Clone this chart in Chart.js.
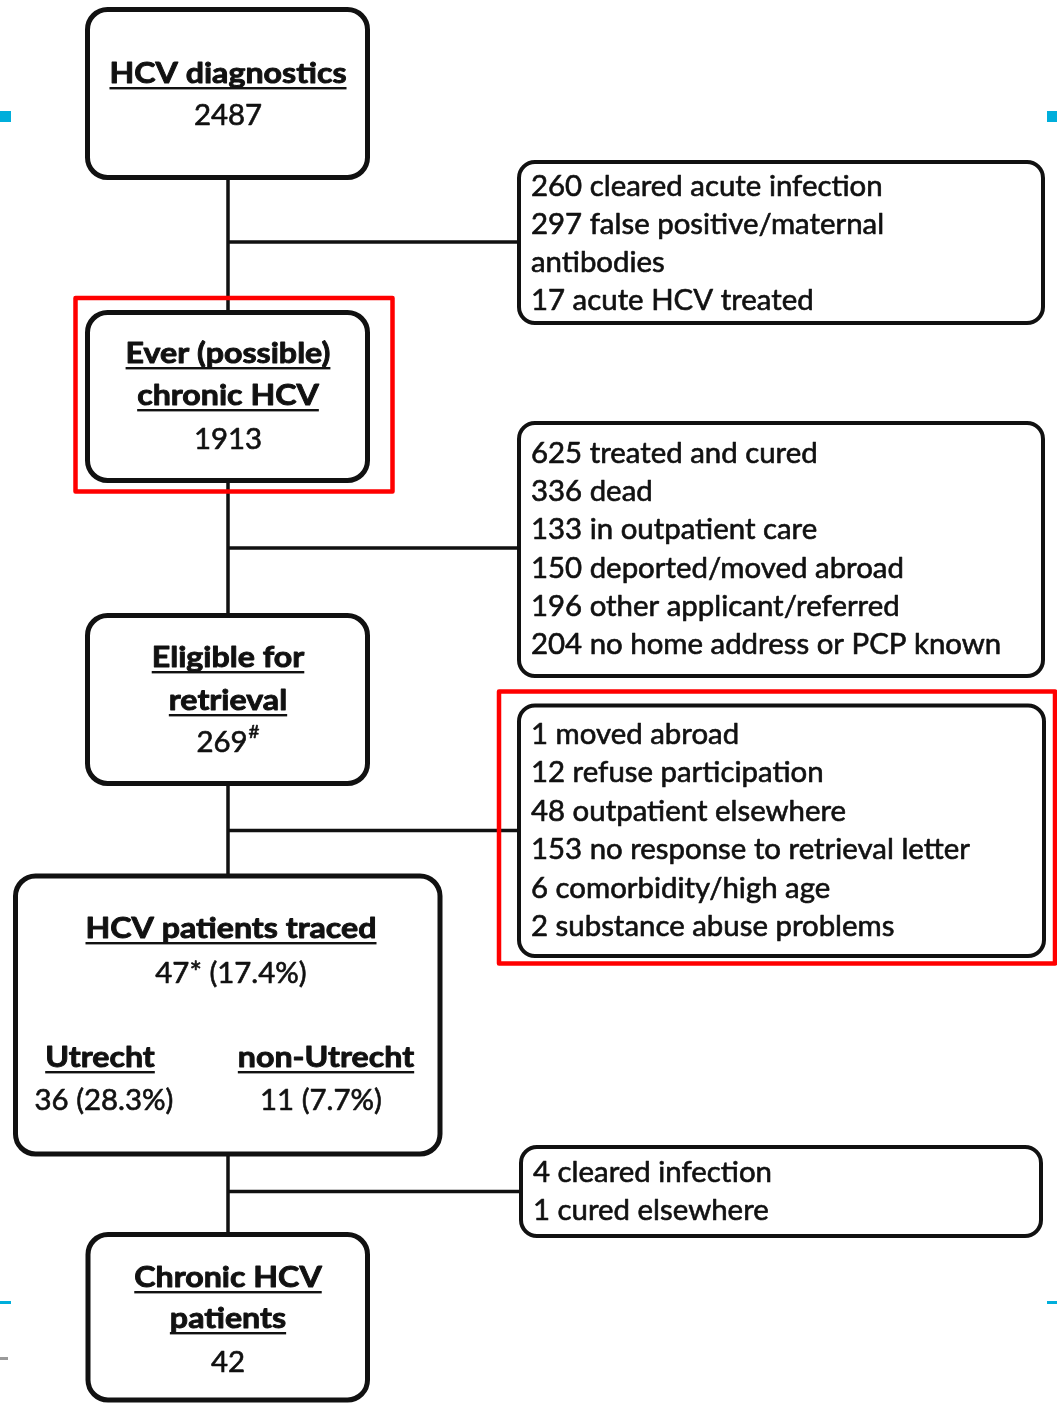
<!DOCTYPE html>
<html><head><meta charset="utf-8">
<script src="https://cdn.jsdelivr.net/npm/chart.js@4.4.1/dist/chart.umd.min.js"></script>
<style>html,body{margin:0;padding:0;background:#fff;}canvas{display:block;}</style>
</head><body>
<canvas id="c" width="1057" height="1404"></canvas>
<script>
// ---------------- DATA ----------------
const stageTitles = [['HCV diagnostics'], ['Ever (possible)', 'chronic HCV'], ['Eligible for', 'retrieval'], ['HCV patients traced'], ['Chronic HCV', 'patients']];
const stageCounts = [2487, 1913, 269, 47, 42];
const stageSuperscripts = ['', '', '#', '', ''];
const stageSuffixes = ['', '', '', '* (17.4%)', ''];
const regionNames = ['Utrecht', 'non-Utrecht'];
const regionCounts = [36, 11];
const regionPercents = ['28.3%', '7.7%'];

const excl1Counts = [260, 297, 17];
const excl1Reasons = [['cleared acute infection'], ['false positive/maternal', 'antibodies'], ['acute HCV treated']];
const excl2Counts = [625, 336, 133, 150, 196, 204];
const excl2Reasons = [['treated and cured'], ['dead'], ['in outpatient care'], ['deported/moved abroad'], ['other applicant/referred'], ['no home address or PCP known']];
const excl3Counts = [1, 12, 48, 153, 6, 2];
const excl3Reasons = [['moved abroad'], ['refuse participation'], ['outpatient elsewhere'], ['no response to retrieval letter'], ['comorbidity/high age'], ['substance abuse problems']];
const excl4Counts = [4, 1];
const excl4Reasons = [['cleared infection'], ['cured elsewhere']];
const exclusions = [[excl1Counts, excl1Reasons], [excl2Counts, excl2Reasons], [excl3Counts, excl3Reasons], [excl4Counts, excl4Reasons]];

// ---------------- LAYOUT (chart units = pixels of the reference) ----------------
const W = 1057, H = 1404;
const FONT = 'Lato';
const REG = 28, BOLD = 29, SUP = 18;
const CAL_REG = ['153 no response to retrieval letter', 439];
const CAL_BOLD = ['HCV patients traced', 291];
const stageBoxes = [
  {x0: 87.5, y0: 9.5, x1: 367.5, y1: 177.5, cx: 228, title: [83], count: 125},
  {x0: 87.5, y0: 312.5, x1: 367.5, y1: 480.5, cx: 228, title: [363, 405], count: 449},
  {x0: 87.5, y0: 615.5, x1: 367.5, y1: 783.5, cx: 228, title: [667, 710], count: 752},
  {x0: 15.5, y0: 876, x1: 440, y1: 1154, cx: 231, title: [938], count: 983},
  {x0: 88, y0: 1234.5, x1: 367.5, y1: 1400, cx: 228, title: [1287, 1328], count: 1372}
];
const regionLayout = {nameX: [100, 326], countX: [104, 321], nameY: 1067, countY: 1110};
const sideBoxes = [
  {x0: 519, y0: 162, x1: 1043, y1: 323, tx: 531, base: 196, step: 38.1},
  {x0: 519, y0: 423, x1: 1043, y1: 676, tx: 531, base: 463, step: 38.2},
  {x0: 519, y0: 705.5, x1: 1044, y1: 956, tx: 531, base: 744, step: 38.4},
  {x0: 521, y0: 1147, x1: 1041, y1: 1236, tx: 533, base: 1182, step: 38}
];
const connectors = [
  [[228, 177.5], [228, 312.5]], [[228, 242], [519, 242]],
  [[228, 480.5], [228, 615.5]], [[228, 548], [519, 548]],
  [[228, 783.5], [228, 876]], [[228, 830.5], [519, 830.5]],
  [[228, 1154], [228, 1234.5]], [[228, 1191.5], [521, 1191.5]]
];
const highlights = [[75.5, 298, 392.5, 491.5], [499, 691.5, 1055, 963.5]];
const marks = [
  {x0: 0, y0: 111, x1: 11, y1: 122, c: '#00AEDB'}, {x0: 1047, y0: 111, x1: 1057, y1: 122, c: '#00AEDB'},
  {x0: 0, y0: 1301, x1: 11, y1: 1304, c: '#00AEDB'}, {x0: 1047, y0: 1301, x1: 1057, y1: 1304, c: '#00AEDB'},
  {x0: 0, y0: 1357, x1: 8, y1: 1360, c: '#9a9a9a'}
];

// ---------------- CHART ----------------
const datasets = connectors.map(seg => ({
  data: seg.map(p => ({x: p[0], y: p[1]})),
  showLine: true, borderColor: '#111', borderWidth: 3.5, pointRadius: 0, fill: false
}));

const flowPlugin = {
  id: 'flow',
  beforeDatasetsDraw(chart) {
    const ctx = chart.ctx;
    ctx.save(); ctx.fillStyle = '#fff'; ctx.fillRect(0, 0, chart.width, chart.height); ctx.restore();
  },
  afterDatasetsDraw(chart) {
    const ctx = chart.ctx;
    const X = v => chart.scales.x.getPixelForValue(v);
    const Y = v => chart.scales.y.getPixelForValue(v);
    ctx.save();
    ctx.font = `${REG}px ${FONT}`;
    const sxR = CAL_REG[1] / ctx.measureText(CAL_REG[0]).width;
    ctx.font = `bold ${BOLD}px ${FONT}`;
    const sxB = CAL_BOLD[1] / ctx.measureText(CAL_BOLD[0]).width;

    function width(str, bold, size) {
      ctx.font = `${bold ? 'bold ' : ''}${size}px ${FONT}`;
      return ctx.measureText(str).width * (bold ? sxB : sxR);
    }
    function put(str, left, base, bold, size, underline) {
      const sx = bold ? sxB : sxR;
      ctx.font = `${bold ? 'bold ' : ''}${size}px ${FONT}`;
      ctx.fillStyle = '#111'; ctx.strokeStyle = '#111';
      ctx.lineWidth = bold ? 0.9 : 0.6; ctx.lineJoin = 'round';
      ctx.textAlign = 'left'; ctx.textBaseline = 'alphabetic';
      ctx.save(); ctx.translate(left, base); ctx.scale(sx, 1);
      ctx.fillText(str, 0, 0); ctx.strokeText(str, 0, 0);
      ctx.restore();
      if (underline) ctx.fillRect(left, base + 4, width(str, bold, size), 2.4);
    }
    function centered(str, cx, base, bold, size, underline) {
      put(str, cx - width(str, bold, size) / 2, base, bold, size, underline);
    }
    function box(x0, y0, x1, y1, lw, r) {
      ctx.beginPath();
      ctx.roundRect(X(x0), Y(y0), X(x1) - X(x0), Y(y1) - Y(y0), r);
      ctx.fillStyle = '#fff'; ctx.fill();
      ctx.lineWidth = lw; ctx.strokeStyle = '#111'; ctx.stroke();
    }

    // stage boxes
    stageBoxes.forEach((b, i) => {
      box(b.x0, b.y0, b.x1, b.y1, 5, 20);
      stageTitles[i].forEach((t, k) => centered(t, X(b.cx), Y(b.title[k]), true, BOLD, true));
      const main = String(stageCounts[i]) + stageSuffixes[i];
      const sup = stageSuperscripts[i];
      const wMain = width(main, false, REG), wSup = sup ? width(sup, false, SUP) + 1 : 0;
      const left = X(b.cx) - (wMain + wSup) / 2;
      put(main, left, Y(b.count), false, REG, false);
      if (sup) put(sup, left + wMain + 1, Y(b.count) - 14, false, SUP, false);
    });
    // regions inside traced box
    regionNames.forEach((n, i) => {
      centered(n, X(regionLayout.nameX[i]), Y(regionLayout.nameY), true, BOLD, true);
      centered(`${regionCounts[i]} (${regionPercents[i]})`, X(regionLayout.countX[i]), Y(regionLayout.countY), false, REG, false);
    });
    // side boxes
    sideBoxes.forEach((b, i) => {
      box(b.x0, b.y0, b.x1, b.y1, 4, 16);
      const [counts, reasons] = exclusions[i];
      let line = 0;
      counts.forEach((c, k) => {
        reasons[k].forEach((r, j) => {
          const s = j === 0 ? `${c} ${r}` : r;
          put(s, X(b.tx), Y(b.base + line * b.step), false, REG, false);
          line++;
        });
      });
    });
    // red highlight rectangles
    ctx.strokeStyle = '#f00'; ctx.lineWidth = 4.5;
    highlights.forEach(h => { ctx.strokeRect(X(h[0]), Y(h[1]), X(h[2]) - X(h[0]), Y(h[3]) - Y(h[1])); });
    // edge marks
    marks.forEach(m => { ctx.fillStyle = m.c; ctx.fillRect(X(m.x0), Y(m.y0), X(m.x1) - X(m.x0), Y(m.y1) - Y(m.y0)); });
    ctx.restore();
  }
};

new Chart(document.getElementById('c'), {
  type: 'scatter',
  data: {datasets},
  options: {
    responsive: false, animation: false, devicePixelRatio: 1,
    layout: {padding: 0},
    scales: {
      x: {type: 'linear', min: 0, max: W, display: false},
      y: {type: 'linear', min: 0, max: H, reverse: true, display: false}
    },
    plugins: {legend: {display: false}, tooltip: {enabled: false}}
  },
  plugins: [flowPlugin]
});
</script>
</body></html>
